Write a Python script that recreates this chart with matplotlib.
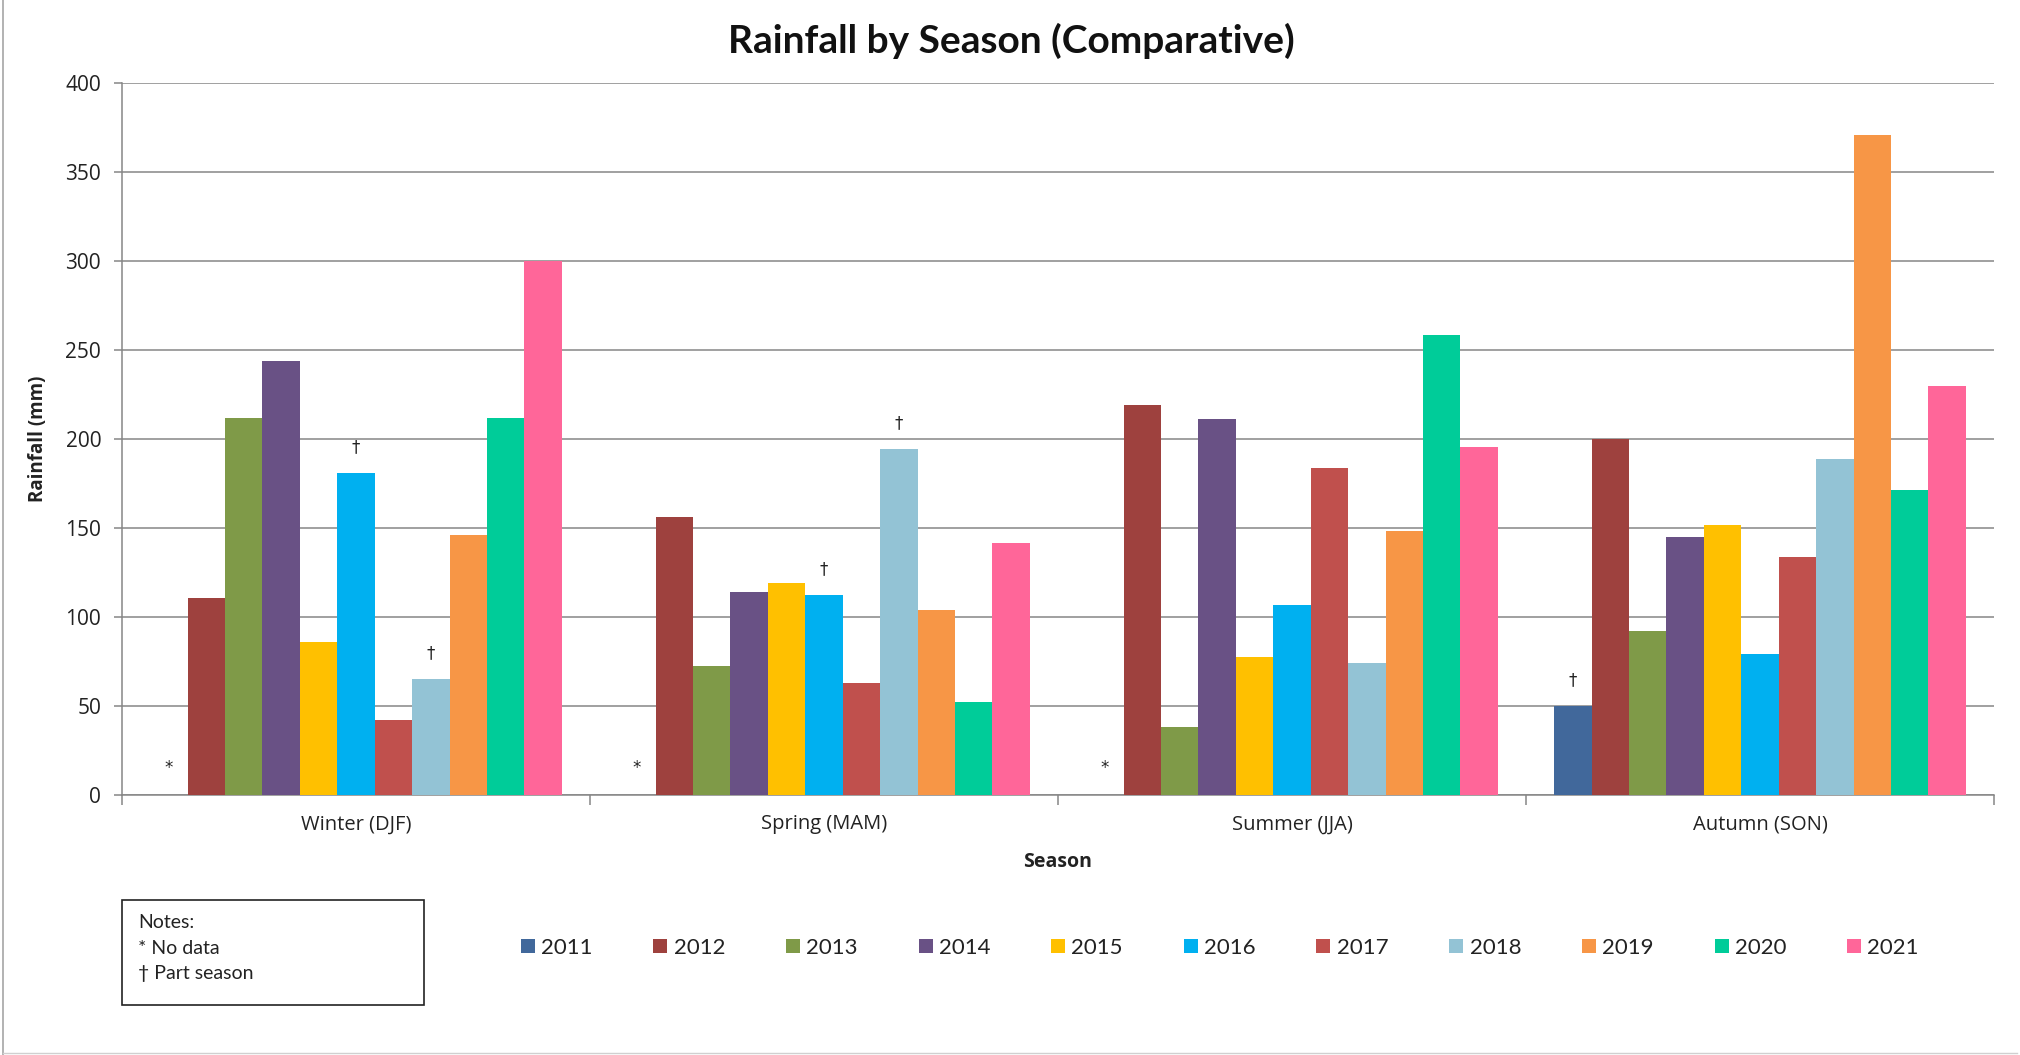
import matplotlib
matplotlib.use('Agg')
import matplotlib.pyplot as plt
import numpy as np
from matplotlib.lines import Line2D

plt.rcParams['font.family'] = ['Open Sans', 'DejaVu Sans']

# ---------------- data ----------------
seasons = ['Winter (DJF)', 'Spring (MAM)', 'Summer (JJA)', 'Autumn (SON)']
years = ['2011', '2012', '2013', '2014', '2015', '2016',
         '2017', '2018', '2019', '2020', '2021']

r2011 = [np.nan, np.nan, np.nan, 50]
r2012 = [111, 156.5, 219, 200]
r2013 = [212, 72.7, 38, 92.4]
r2014 = [244, 114.2, 211.5, 145]
r2015 = [86, 119.4, 77.7, 151.8]
r2016 = [181, 112.5, 107, 79.4]
r2017 = [42, 63.2, 184, 133.8]
r2018 = [65, 194.4, 74.4, 188.7]
r2019 = [146, 103.8, 148.3, 371]
r2020 = [212, 52, 258.7, 171.7]
r2021 = [300, 141.7, 195.8, 230]

series = [r2011, r2012, r2013, r2014, r2015, r2016,
          r2017, r2018, r2019, r2020, r2021]

colors = ['#41689B', '#9E413E', '#7F9A48', '#695185', '#FFC000', '#00B0F0',
          '#C0504D', '#93C3D5', '#F79646', '#00CC99', '#FF6699']

no_data = [('Winter (DJF)', '2011'), ('Spring (MAM)', '2011'), ('Summer (JJA)', '2011')]
part_season = [('Winter (DJF)', '2016'), ('Winter (DJF)', '2018'),
               ('Spring (MAM)', '2016'), ('Spring (MAM)', '2018'),
               ('Autumn (SON)', '2011')]

notes_lines = ['Notes:', '* No data', '\u2020 Part season']

# ---------------- figure ----------------
W, H = 2020, 1055
fig = plt.figure(figsize=(W / 100, H / 100), dpi=100)
ax = fig.add_axes([122 / W, 1 - 795 / H, (1994 - 122) / W, (795 - 83.3) / H])

grid_c = '#868686'
txt_c = '#222222'
n = len(years)
w = 1.0 / (n + 1.5)
xc = np.arange(len(seasons))

for i, (yr, vals, c) in enumerate(zip(years, series, colors)):
    ax.bar(xc + (i - (n - 1) / 2) * w, vals, width=w, color=c, linewidth=0,
           label=yr, zorder=3)

# markers
for s, yr in no_data:
    x = seasons.index(s) + (years.index(yr) - (n - 1) / 2) * w
    ax.text(x, 15, '*', ha='center', va='center', fontsize=12,
            family='DejaVu Sans', color=txt_c, zorder=4)
for s, yr in part_season:
    si = seasons.index(s)
    yi = years.index(yr)
    x = si + (yi - (n - 1) / 2) * w
    v = series[yi][si]
    ax.text(x, v + 14.5, '\u2020', ha='center', va='center', fontsize=12,
            family='DejaVu Sans', color=txt_c, zorder=4)

ax.set_xlim(-0.5, len(seasons) - 0.5)
ax.set_ylim(0, 400)
ax.set_yticks(np.arange(0, 401, 50))
ax.yaxis.grid(True, color=grid_c, linewidth=1.1, zorder=0)
ax.set_axisbelow(True)

ax.set_xticks(np.arange(-0.5, len(seasons), 1.0))
ax.set_xticklabels([])
ax.set_xticks(xc, minor=True)
ax.set_xticklabels(seasons, minor=True)
ax.tick_params(axis='x', which='major', direction='out', length=7, color=grid_c, width=1.1)
ax.tick_params(axis='x', which='minor', length=0, pad=14, labelsize=14.5,
               labelcolor=txt_c)
ax.tick_params(axis='y', direction='out', length=6, color=grid_c, width=1.1,
               pad=9, labelsize=15, labelcolor=txt_c)

for sp in ['top', 'right']:
    ax.spines[sp].set_visible(False)
for sp in ['left', 'bottom']:
    ax.spines[sp].set_color(grid_c)
    ax.spines[sp].set_linewidth(1.1)

ax.set_ylabel('Rainfall (mm)', fontsize=13.5, fontweight='bold', color=txt_c)
ax.yaxis.set_label_coords(-0.0395, 0.5)
ax.set_xlabel('Season', fontsize=14, fontweight='bold', color=txt_c)
ax.xaxis.set_label_coords(0.5, -0.094)
ax.xaxis.label.set_va('center')

fig.text(1011 / W, 1 - 41 / H, 'Rainfall by Season (Comparative)', ha='center',
         va='center', fontsize=28, fontweight='bold', family='Lato', color='#111111')

# legend
handles = [Line2D([], [], marker='s', linestyle='none', markersize=10,
                  markerfacecolor=c, markeredgewidth=0) for c in colors]
leg = fig.legend(handles, years, loc='center', ncol=n,
                 bbox_to_anchor=(1220 / W, 1 - 948 / H), frameon=False,
                 prop={'family': 'Lato', 'size': 16}, handlelength=0.6,
                 handletextpad=0.3, columnspacing=2.75)
for t in leg.get_texts():
    t.set_color(txt_c)

# notes box
fig.patches.append(matplotlib.patches.Rectangle((122 / W, 1 - 1005 / H), (424 - 122) / W,
                                                (1005 - 900) / H, transform=fig.transFigure,
                                                fill=False, edgecolor=txt_c, linewidth=1.2))
for k, line in enumerate(notes_lines):
    fig.text(138 / W, 1 - (922 + k * 26) / H, line, ha='left', va='center',
             fontsize=14, family=['Lato', 'DejaVu Sans'], color=txt_c)

# outer border
fig.add_artist(Line2D([3 / W, 3 / W], [0, 1], color='#A6A6A6', linewidth=1.2,
                      transform=fig.transFigure))
fig.add_artist(Line2D([3 / W, 2017 / W], [2 / H, 2 / H], color='#D0D0D0', linewidth=1.0,
                      transform=fig.transFigure))

fig.savefig('out.png', dpi=100, facecolor='white')
